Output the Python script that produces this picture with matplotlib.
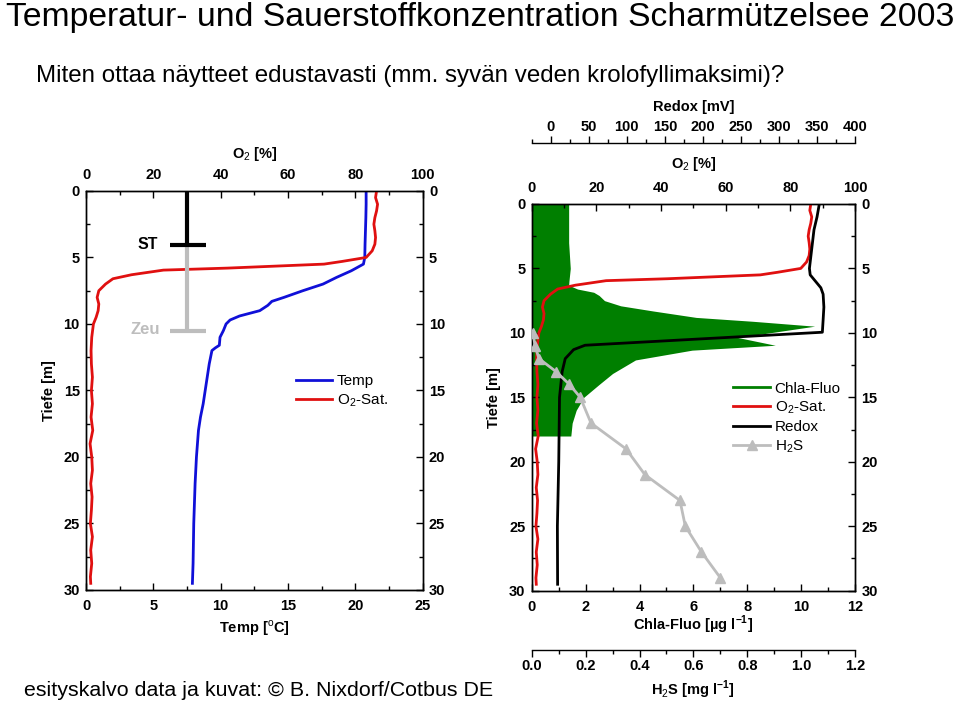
import numpy as np
import matplotlib
matplotlib.use("Agg")
import matplotlib.pyplot as plt
from matplotlib.ticker import MultipleLocator

# --- Daten: linkes Profil (Temperatur / O2) ---
temp_depth = [0, 1, 2, 3, 4, 5, 5.5, 6.0, 6.5, 7.0, 7.5, 8.0, 8.3, 8.6, 9.0, 9.4, 9.7,
              10.0, 10.5, 11.0, 11.6, 11.8, 12.0, 13, 14, 15, 16, 17, 18, 20, 22, 25, 28, 29.5]
temp = [20.8, 20.8, 20.78, 20.75, 20.72, 20.7, 20.6, 19.7, 18.6, 17.6, 16.1, 14.7, 13.8, 13.5,
        12.9, 11.4, 10.7, 10.4, 10.2, 9.95, 9.9, 9.6, 9.35, 9.15, 9.0, 8.85, 8.7, 8.5, 8.35,
        8.2, 8.1, 8.0, 7.95, 7.9]

o2_depth = [0, 0.5, 1, 1.5, 2, 2.5, 3, 3.5, 4, 4.5, 5, 5.3, 5.5, 5.8, 5.95, 6.3, 6.6, 7.0,
            7.5, 8, 8.5, 9, 9.5, 10, 11, 12, 13, 14, 15, 16, 17, 18, 19, 20, 21, 22, 23, 24,
            25, 26, 27, 28, 29, 29.5]
o2 = [86.3, 86.0, 86.6, 86.3, 85.8, 85.5, 85.8, 86.0, 85.8, 85.0, 83.2, 76, 70.7, 42, 23,
      13.5, 8.0, 5.8, 3.8, 3.3, 3.8, 3.6, 3.0, 2.2, 1.7, 1.5, 1.6, 1.9, 1.6, 1.9, 1.5, 2.0,
      1.2, 1.7, 1.9, 1.4, 1.8, 1.6, 1.3, 1.9, 1.4, 1.7, 1.3, 1.4]

# Markierungen ST / Zeu (O2-Achse, Tiefe)
st_x, st_depth = 30, 4.1
zeu_depth = 10.5

# --- Daten: rechtes Profil (Chla, Redox, H2S) ---
chla_depth = [0, 1, 2, 3, 4, 5, 6, 6.3, 6.6, 6.85, 7.1, 7.5, 7.9, 8.3, 8.8, 9.1, 9.48,
              10.36, 10.96, 11.34, 12.1, 13.15, 14, 15, 16, 17, 18, 18]
chla = [1.37, 1.37, 1.37, 1.37, 1.4, 1.43, 1.38, 1.37, 1.7, 2.3, 2.5, 2.7, 3.3, 4.5, 6.1,
        8.2, 10.5, 7.65, 9.04, 5.95, 3.85, 3.0, 2.5, 1.93, 1.65, 1.5, 1.45, 0.0]

redox_depth = [0, 1, 2, 3, 4, 5, 5.5, 6, 6.5, 7, 8, 9, 9.95, 10.96, 11.3, 12, 13, 15, 20, 25, 29.5]
redox = [353, 350, 346, 344, 342, 340, 341, 348, 355, 358, 359, 358, 357, 45, 30, 19, 15, 11.5,
         10.5, 8.7, 9]

h2s_depth = [10, 11, 12, 13, 14, 15, 17, 19, 21, 23, 25, 27, 29]
h2s = [0.005, 0.012, 0.027, 0.09, 0.14, 0.18, 0.22, 0.35, 0.42, 0.55, 0.57, 0.63, 0.70]

c_blue = '#1010d8'
c_red = '#e01010'
c_green = '#007f00'
c_gray = '#bdbdbd'

plt.rcParams['font.family'] = ['Liberation Sans', 'DejaVu Sans']
plt.rcParams['mathtext.fontset'] = 'custom'
plt.rcParams['mathtext.rm'] = 'Liberation Sans'
plt.rcParams['mathtext.bf'] = 'Liberation Sans:bold'
plt.rcParams['axes.linewidth'] = 1.0

fs_tick = 10.5


def style_axis(ax):
    ax.tick_params(which='both', direction='in', labelsize=fs_tick, width=1.0)
    ax.tick_params(which='major', length=5)
    ax.tick_params(which='minor', length=3)
    ax.tick_params(axis='x', pad=6.5)
    ax.tick_params(axis='y', pad=4.5)
    for lab in ax.get_xticklabels() + ax.get_yticklabels():
        lab.set_fontweight('bold')


fig = plt.figure(figsize=(9.6, 7.07), dpi=100)

# Titel
fig.text(0.006, 0.975, 'Temperatur- und Sauerstoffkonzentration Scharmützelsee 2003',
         fontsize=24.3, va='center', ha='left')
fig.text(0.037, 0.893, 'Miten ottaa näytteet edustavasti (mm. syvän veden krolofyllimaksimi)?',
         fontsize=17.4, va='center', ha='left')
fig.text(0.025, 0.024, 'esityskalvo data ja kuvat: © B. Nixdorf/Cotbus DE',
         fontsize=15.4, va='center', ha='left')

# ---------- linkes Diagramm ----------
ax1 = fig.add_axes([0.0896, 0.1655, 0.3507, 0.5644])
ax1.plot(temp, temp_depth, color=c_blue, lw=2, label='Temp')
ax1.set_xlim(0, 25)
ax1.set_ylim(30, 0)
ax1.xaxis.set_major_locator(MultipleLocator(5))
ax1.xaxis.set_minor_locator(MultipleLocator(2.5))
ax1.yaxis.set_major_locator(MultipleLocator(5))
ax1.yaxis.set_minor_locator(MultipleLocator(2.5))
ax1.tick_params(which='both', right=True, labelright=True)
ax1.set_xlabel('Temp [$^{\\mathrm{o}}$C]', fontweight='bold', fontsize=fs_tick, labelpad=4)
ax1.set_ylabel('Tiefe [m]', fontweight='bold', fontsize=fs_tick, labelpad=5)

ax1o = ax1.twiny()
ax1o.plot(o2, o2_depth, color=c_red, lw=2, label='O$_2$-Sat.')
ax1o.set_xlim(0, 100)
ax1o.xaxis.set_major_locator(MultipleLocator(20))
ax1o.xaxis.set_minor_locator(MultipleLocator(10))
ax1o.set_xlabel('O$_2$ [%]', fontweight='bold', fontsize=fs_tick, labelpad=7)
# ST / Zeu
ax1o.plot([st_x, st_x], [st_depth, zeu_depth], color=c_gray, lw=3, solid_capstyle='butt')
ax1o.plot([st_x - 5, st_x + 5.5], [zeu_depth, zeu_depth], color=c_gray, lw=3, solid_capstyle='butt')
ax1o.plot([st_x, st_x], [0, st_depth], color='black', lw=3, solid_capstyle='butt')
ax1o.plot([st_x - 5, st_x + 5.5], [st_depth, st_depth], color='black', lw=3, solid_capstyle='butt')
ax1o.text(18.2, st_depth - 0.1, 'ST', fontweight='bold', fontsize=11.5, ha='center', va='center')
ax1o.text(17.5, zeu_depth - 0.05, 'Zeu', fontweight='bold', fontsize=12, ha='center',
          va='center', color=c_gray)

style_axis(ax1)
style_axis(ax1o)

h1, l1 = ax1.get_legend_handles_labels()
h2, l2 = ax1o.get_legend_handles_labels()
ax1.legend(h1 + h2, l1 + l2, loc='upper left', bbox_to_anchor=(0.6, 0.56), frameon=False,
           fontsize=11, handlelength=2.4, handletextpad=0.3, labelspacing=0.25, borderpad=0)

# ---------- rechtes Diagramm ----------
ax2 = fig.add_axes([0.5539, 0.1645, 0.3368, 0.547])
ax2.fill_betweenx(chla_depth, 0, chla, color=c_green, lw=0)
ax2.set_xlim(0, 12)
ax2.set_ylim(30, 0)
ax2.xaxis.set_major_locator(MultipleLocator(2))
ax2.xaxis.set_minor_locator(MultipleLocator(1))
ax2.yaxis.set_major_locator(MultipleLocator(5))
ax2.yaxis.set_minor_locator(MultipleLocator(2.5))
ax2.tick_params(which='both', right=True, labelright=True)
ax2.set_xlabel('Chla-Fluo [µg l$^{\\mathbf{-1}}$]', fontweight='bold', fontsize=fs_tick, labelpad=0)
ax2.set_ylabel('Tiefe [m]', fontweight='bold', fontsize=fs_tick, labelpad=6)

ax2o = ax2.twiny()
ax2o.plot(o2, o2_depth, color=c_red, lw=2)
ax2o.set_xlim(0, 100)
ax2o.xaxis.set_major_locator(MultipleLocator(20))
ax2o.xaxis.set_minor_locator(MultipleLocator(10))
ax2o.set_xlabel('O$_2$ [%]', fontweight='bold', fontsize=fs_tick, labelpad=9)

ax2r = ax2.twiny()
ax2r.plot(redox, redox_depth, color='black', lw=2)
ax2r.set_xlim(-25, 400)
ax2r.spines['top'].set_position(('outward', 44))
for s in ['left', 'right', 'bottom']:
    ax2r.spines[s].set_visible(False)
ax2r.xaxis.set_major_locator(MultipleLocator(50))
ax2r.xaxis.set_minor_locator(MultipleLocator(25))
ax2r.set_xlabel('Redox [mV]', fontweight='bold', fontsize=fs_tick, labelpad=6)

ax2h = ax2.twiny()
ax2h.plot(h2s, h2s_depth, color=c_gray, lw=2, marker='^', ms=7)
ax2h.set_xlim(0, 1.2)
ax2h.xaxis.set_ticks_position('bottom')
ax2h.xaxis.set_label_position('bottom')
ax2h.spines['bottom'].set_position(('outward', 43))
for s in ['left', 'right', 'top']:
    ax2h.spines[s].set_visible(False)
ax2h.xaxis.set_major_locator(MultipleLocator(0.2))
ax2h.xaxis.set_minor_locator(MultipleLocator(0.1))
ax2h.xaxis.set_major_formatter(plt.FormatStrFormatter('%.1f'))
ax2h.set_xlabel('H$_2$S [mg l$^{\\mathbf{-1}}$]', fontweight='bold', fontsize=fs_tick, labelpad=4)

style_axis(ax2)
style_axis(ax2o)
style_axis(ax2r)
style_axis(ax2h)
ax2r.tick_params(which='both', direction='out', pad=1.5)
ax2h.tick_params(which='both', direction='out', pad=1.5)

legend_handles = [plt.Line2D([], [], color=c_green, lw=2),
                  plt.Line2D([], [], color=c_red, lw=2),
                  plt.Line2D([], [], color='black', lw=2),
                  plt.Line2D([], [], color=c_gray, lw=2, marker='^', ms=7)]
legend_labels = ['Chla-Fluo', 'O$_2$-Sat.', 'Redox', 'H$_2$S']
ax2.legend(legend_handles, legend_labels, loc='upper left', bbox_to_anchor=(0.6, 0.56),
           frameon=False, fontsize=11, handlelength=2.4, handletextpad=0.3, labelspacing=0.25,
           borderpad=0)

fig.savefig('out.png', dpi=100)
